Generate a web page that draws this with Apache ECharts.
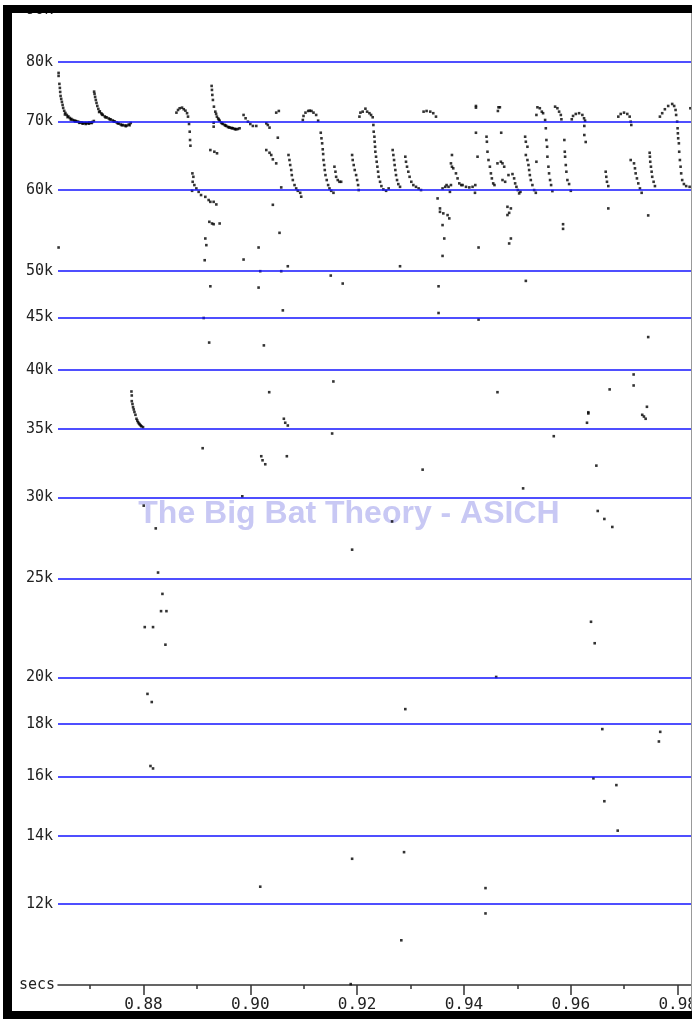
<!DOCTYPE html>
<html><head><meta charset="utf-8">
<script src="https://cdn.jsdelivr.net/npm/echarts@6/dist/echarts.min.js"></script>
<style>html,body{margin:0;padding:0;background:#fff;}#c{width:692px;height:1019px;}</style>
</head><body><div id="c"></div>
<script>
// Frequency grid lines (Hz) and their labels
const yTickValues = [90000, 80000, 70000, 60000, 50000, 45000, 40000, 35000, 30000, 25000, 20000, 18000, 16000, 14000, 12000];
const yTickLabels = ['90k', '80k', '70k', '60k', '50k', '45k', '40k', '35k', '30k', '25k', '20k', '18k', '16k', '14k', '12k'];
// Time ticks (secs)
const xTickValues = [0.88, 0.90, 0.92, 0.94, 0.96, 0.98];
const xMinorTickValues = [0.87, 0.89, 0.91, 0.93, 0.95, 0.97];
const watermark = 'The Big Bat Theory - ASICH';

// Dots [time s, frequency Hz], grouped by call
const callA = [[0.86411,78090],[0.86411,77560],[0.86426,76180],[0.86435,75490],[0.86441,74810],[0.86448,74140],[0.86460,73640],[0.86473,73150],[0.86486,72650],[0.86497,72160],[0.86516,71690],[0.86538,71350],[0.86566,71030],[0.86594,70790],[0.86622,70550],[0.86650,70390],[0.86678,70230],[0.86706,70150],[0.86734,70070],[0.86762,69990],[0.86790,69910],[0.86819,69830],[0.86847,69830],[0.86875,69750],[0.86903,69750],[0.86931,69750],[0.86959,69750],[0.86987,69830],[0.87015,69830],[0.87043,69910],[0.87071,70070],
  [0.86530,71100],[0.86580,70680],[0.86640,70300],[0.86720,70000],[0.86800,69780],[0.86860,69640],[0.86920,69600],[0.86980,69640],[0.87030,69750]];
const callB = [[0.87076,74860],[0.87084,74480],[0.87095,73970],[0.87108,73470],[0.87121,72980],[0.87136,72480],[0.87155,72000],[0.87183,71610],[0.87211,71290],[0.87239,71030],[0.87276,70790],[0.87314,70630],[0.87351,70470],[0.87389,70310],[0.87426,70150],[0.87463,69990],[0.87501,69830],[0.87538,69670],[0.87575,69520],[0.87613,69440],[0.87650,69360],[0.87688,69360],[0.87725,69520],[0.87762,69750],
  [0.87170,71500],[0.87225,71100],[0.87290,70650],[0.87370,70330],[0.87445,70000],[0.87520,69700],[0.87595,69400],[0.87670,69250],[0.87740,69400]];
const callLow = [[0.87775,38090],[0.87781,37750],[0.87781,37270],[0.87794,37030],[0.87805,36770],[0.87818,36580],[0.87831,36370],[0.87850,36140],[0.87869,35820],[0.87884,35680],[0.87899,35540],[0.87916,35440],[0.87931,35360],[0.87949,35280],[0.87962,35220],[0.87992,35150]];
const callC = [[0.88617,71400],[0.88647,71830],[0.88678,72110],[0.88722,72210],[0.88754,71950],[0.88786,71720],[0.88816,71310],[0.88834,70760],[0.88853,69600],[0.88866,68400],[0.88872,67130],[0.88879,66270],[0.88916,62270],[0.88934,61790],[0.88921,61100],[0.88910,59870],[0.88953,60650],[0.88990,60190],[0.89033,59730],[0.89078,59300],[0.89158,59060],[0.89220,58640],[0.89252,58400],[0.89314,58400],[0.89364,58060]];
const callD = [[0.89276,75830],[0.89282,75150],[0.89289,74310],[0.89300,73470],[0.89319,72370],[0.89345,71560],[0.89375,70760],[0.89398,70470],[0.89426,70120],[0.89454,69830],[0.89488,69600],[0.89520,69440],[0.89551,69290],[0.89581,69130],[0.89613,69030],[0.89645,68980],[0.89675,68930],[0.89706,68820],[0.89738,68780],[0.89768,68820],[0.89800,68930],
  [0.89360,71200],[0.89410,70300],[0.89470,69700],[0.89535,69360],[0.89600,69100],[0.89660,68950],[0.89720,68800]];
const callE = [[0.89874,71030],[0.89912,70500],[0.89955,69960],[0.90000,69600],[0.90048,69290],[0.90112,69290],[0.90299,69700],[0.90328,69440],[0.90360,69030]];
const callF = [[0.90485,71400],[0.90534,71670],[0.90515,67480],[0.90299,65630],[0.90360,65230],[0.90392,64900],[0.90422,64270],[0.90485,63690],[0.90579,60330],[0.90422,58010],[0.90547,54460]];
const callG = [[0.90715,64900],[0.90733,64170],[0.90747,63450],[0.90766,62740],[0.90777,62030],[0.90796,61340],[0.90828,60650],[0.90859,60190],[0.90889,59870],[0.90934,59600],[0.90953,59080]];
const callH = [[0.90983,70230],[0.90996,70870],[0.91033,71400],[0.91084,71670],[0.91113,71720],[0.91145,71670],[0.91183,71400],[0.91233,71030],[0.91270,70120],[0.91319,68240],[0.91332,67390],[0.91345,66630],[0.91356,65740],[0.91364,65040],[0.91370,64170],[0.91383,63450],[0.91394,62740],[0.91407,62030],[0.91431,61340],[0.91457,60650],[0.91482,60190],[0.91514,59870],[0.91557,59600]];
const callI = [[0.91575,63210],[0.91594,62500],[0.91607,61790],[0.91637,61340],[0.91669,61100],[0.91701,61100]];
const callJ = [[0.91906,64900],[0.91917,64170],[0.91936,63450],[0.91955,62740],[0.91981,62030],[0.92000,61340],[0.92018,60650],[0.92029,59970]];
const callK = [[0.92043,70760],[0.92061,71400],[0.92104,71560],[0.92155,72040],[0.92187,71560],[0.92230,71310],[0.92261,71030],[0.92291,70660],[0.92304,69440],[0.92310,68400],[0.92323,67630],[0.92328,66870],[0.92336,66120],[0.92341,65380],[0.92354,64650],[0.92366,63920],[0.92379,63210],[0.92392,62500],[0.92403,61790],[0.92429,61100],[0.92454,60510],[0.92491,60060],[0.92542,59870],[0.92590,60190]];
const callL = [[0.92665,65630],[0.92678,64900],[0.92691,64170],[0.92702,63450],[0.92715,62740],[0.92728,62030],[0.92747,61340],[0.92771,60780],[0.92803,60410]];
const callM = [[0.92902,64650],[0.92915,63920],[0.92934,63210],[0.92958,62500],[0.92982,61790],[0.93014,61100],[0.93052,60650],[0.93102,60410],[0.93151,60190],[0.93196,59970]];
const callN = [[0.93244,71560],[0.93300,71670],[0.93369,71560],[0.93425,71310],[0.93476,70760]];
const callO = [[0.93506,58850],[0.93551,57540],[0.93551,57100],[0.93613,56900],[0.93693,56680],[0.93725,56260],[0.93599,55420],[0.93631,53770],[0.93599,60190],[0.93649,60410],[0.93674,60650],[0.93711,60410],[0.93756,60650],[0.93737,59730]];
const callP = [[0.93775,64900],[0.93756,63690],[0.93775,63210],[0.93799,62980],[0.93850,62270],[0.93880,61570],[0.93912,60880],[0.93949,60650],[0.93974,60650],[0.94038,60410],[0.94100,60330],[0.94161,60410],[0.94212,60650],[0.94206,59600]];
const callQ = [[0.94224,72480],[0.94224,72210],[0.94224,68240],[0.94254,64650],[0.94422,67630],[0.94429,66870],[0.94440,65380],[0.94459,64170],[0.94485,63210],[0.94504,62270],[0.94522,61570],[0.94547,60880],[0.94571,60650]];
const callR = [[0.94646,72270],[0.94672,72270],[0.94635,71670],[0.94697,68240],[0.94627,63690],[0.94691,63920],[0.94721,63690],[0.94753,63210],[0.94721,61340],[0.94771,61100],[0.94833,62030],[0.94908,62170],[0.94939,61570],[0.94958,60880],[0.94982,60410],[0.95008,59970],[0.95033,59520],[0.95057,59730],[0.94814,57750],[0.94878,57540],[0.94846,56970],[0.94814,56690],[0.94878,53770],[0.94846,53170]];
const callS = [[0.95145,67630],[0.95158,66870],[0.95188,66120],[0.95158,64900],[0.95188,64170],[0.95207,63450],[0.95220,62740],[0.95233,62030],[0.95251,61340],[0.95281,60650],[0.95313,59970],[0.95345,59600],[0.95356,63920]];
const callT = [[0.95356,71030],[0.95375,72270],[0.95420,72110],[0.95457,71560],[0.95481,71310],[0.95519,70230],[0.95532,68930],[0.95543,67130],[0.95556,66120],[0.95562,64650],[0.95581,63210],[0.95593,62270],[0.95612,61340],[0.95631,60650],[0.95655,59830]];
const callU = [[0.95706,72370],[0.95749,72110],[0.95781,71560],[0.95813,71030],[0.95824,70340],[0.95879,67130],[0.95887,65380],[0.95893,64650],[0.95906,63450],[0.95917,62500],[0.95936,61340],[0.95968,60790],[0.96000,59870],[0.95855,55530],[0.95855,54950]];
const callV = [[0.96018,70340],[0.96042,70870],[0.96093,71190],[0.96155,71310],[0.96216,71030],[0.96248,70500],[0.96267,70120],[0.96253,69290],[0.96253,67890],[0.96279,66830]];
const callW = [[0.96653,62500],[0.96664,61790],[0.96677,61100],[0.96702,60510],[0.96702,57540]];
const callX = [[0.96889,70760],[0.96934,71190],[0.96996,71400],[0.97057,71190],[0.97102,70760],[0.97121,69960],[0.97132,69440],[0.97121,64170],[0.97183,63690],[0.97201,62980],[0.97214,62270],[0.97238,61570],[0.97263,60880],[0.97294,60190],[0.97326,59600]];
const callY = [[0.97449,56640],[0.97476,65230],[0.97481,64650],[0.97487,63920],[0.97500,63210],[0.97513,62500],[0.97524,61790],[0.97550,61100],[0.97575,60510]];
const callZ = [[0.97668,70760],[0.97711,71310],[0.97761,71950],[0.97823,72480],[0.97898,72810],[0.97935,72480],[0.97961,71830],[0.97972,71030],[0.97991,69960],[0.97999,68930],[0.98004,68150],[0.98010,67390],[0.98023,66630],[0.98029,65380],[0.98042,64170],[0.98055,63210],[0.98066,62270],[0.98085,61340],[0.98117,60790],[0.98160,60510],[0.98224,60410],[0.98238,72110]];
const strays = [[0.86411,52690],[0.89233,55830],[0.89284,55620],[0.89314,55530],[0.89426,55620],[0.89158,53770],[0.89177,52970],[0.89146,51200],[0.89252,48280],[0.89127,44950],[0.89230,42530],[0.89108,33520],[0.88005,29450],[0.89314,69800],[0.89314,69180],[0.89252,65630],[0.89327,65380],[0.89377,65150],
[0.88230,27980],[0.88273,25330],[0.88355,24140],[0.88329,23220],[0.88430,23220],[0.88024,22400],[0.88179,22400],[0.88411,21530],[0.88075,19270],[0.88155,18920],[0.88131,16380],[0.88179,16290],
[0.90155,52690],[0.89874,51280],[0.90186,49950],[0.90579,49950],[0.90702,50510],[0.90155,48140],[0.90609,45730],[0.91506,49460],[0.91730,48580],[0.92803,50510],[0.93599,51700],[0.93524,48280],[0.93524,45460],[0.90254,42260],[0.91555,38960],[0.90354,38030],[0.90628,35820],[0.90654,35500],[0.90702,35280],[0.91532,34650],[0.90205,32920],[0.90229,32620],[0.90280,32330],[0.90684,32920],[0.93226,31940],[0.89850,30080],
[0.94273,52690],[0.95158,48870],[0.94273,44790],[0.97449,43060],[0.97176,39580],[0.97176,38610],[0.96727,38270],[0.94627,38030],[0.97425,36800],[0.97337,36140],[0.97369,36000],[0.97401,35820],[0.96328,36350],[0.96328,36250],[0.96303,35500],[0.95681,34440],[0.96478,32230],[0.95107,30620],[0.96504,29100],[0.96628,28580],[0.96777,28070],[0.96378,22670],[0.96447,21600],[0.94603,20020],[0.96590,17800],[0.97674,17690],[0.97649,17310],[0.96423,15930],[0.96853,15690],[0.96628,15130],[0.96878,14160],[0.94403,12440],[0.94403,11750],
[0.92654,28420],[0.91906,26670],[0.92902,18620],[0.90186,12480],[0.91906,13290],[0.92878,13490],[0.92827,11060],[0.91880,10020]];

const allDots = [].concat(callA, callB, callLow, callC, callD, callE, callF, callG, callH, callI, callJ, callK, callL, callM, callN, callO, callP, callQ, callR, callS, callT, callU, callV, callW, callX, callY, callZ, strays);

const X_MIN = 0.864, X_MAX = 0.9825;
const chart = echarts.init(document.getElementById('c'), null, {renderer: 'canvas'});
const mono = '"DejaVu Sans Mono", "Liberation Mono", monospace';
chart.setOption({
  animation: false,
  backgroundColor: '#ffffff',
  grid: {left: 58, right: 1, top: 5, bottom: 34, containLabel: false, outerBoundsMode: 'none'},
  xAxis: [{
    type: 'value', min: X_MIN, max: X_MAX,
    axisLine: {show: true, lineStyle: {color: '#333', width: 1.5}},
    axisTick: {show: true, customValues: xTickValues, length: 10, lineStyle: {color: '#333', width: 1.5}},
    axisLabel: {show: true, customValues: xTickValues, formatter: v => v.toFixed(2), fontFamily: mono, fontSize: 16, color: '#222', margin: 12},
    splitLine: {show: false},
    name: 'secs', nameLocation: 'start', nameGap: 3,
    nameTextStyle: {fontFamily: mono, fontSize: 15, color: '#222', verticalAlign: 'middle'}
  }, {
    type: 'value', min: X_MIN, max: X_MAX, position: 'bottom',
    axisLine: {show: false},
    axisTick: {show: true, customValues: xMinorTickValues, length: 4, lineStyle: {color: '#333', width: 1.5}},
    axisLabel: {show: false},
    splitLine: {show: false}
  }],
  yAxis: {
    type: 'log', logBase: 10, min: 10000, max: 91000,
    axisLine: {show: false}, axisTick: {show: false}, axisLabel: {show: false}, splitLine: {show: false}
  },
  graphic: [
    {type: 'text', x: 349, y: 514, z: -1, silent: true,
     style: {text: watermark, font: 'bold 32px "Liberation Sans", Arial, sans-serif', fill: '#c8c8f4', align: 'center', verticalAlign: 'middle', textAlign: 'center', textVerticalAlign: 'middle'}},
    {type: 'rect', z: 100, silent: true, shape: {x: 0, y: 0, width: 692, height: 5}, style: {fill: '#fff'}},
    {type: 'rect', z: 100, silent: true, shape: {x: 0, y: 0, width: 3, height: 1019}, style: {fill: '#fff'}},
    {type: 'rect', z: 101, silent: true, shape: {x: 3, y: 5, width: 9, height: 1014}, style: {fill: '#000'}},
    {type: 'rect', z: 101, silent: true, shape: {x: 3, y: 5, width: 689, height: 8}, style: {fill: '#000'}},
    {type: 'rect', z: 101, silent: true, shape: {x: 3, y: 1011, width: 689, height: 8}, style: {fill: '#000'}},
    {type: 'rect', z: 101, silent: true, shape: {x: 691, y: 13, width: 1, height: 998}, style: {fill: '#999'}}
  ],
  series: [{
    type: 'scatter', xAxisIndex: 0, data: allDots,
    symbol: 'rect', symbolSize: 2.6, itemStyle: {color: '#000'}, silent: true,
    markLine: {
      silent: true, symbol: ['none', 'none'], animation: false,
      lineStyle: {color: '#1414ff', width: 1.5, type: 'solid'},
      label: {show: true, position: 'start', distance: 5, formatter: '{b}', fontFamily: mono, fontSize: 15, color: '#222'},
      data: yTickValues.map((v, i) => ({yAxis: v, name: yTickLabels[i]}))
    }
  }]
});
</script></body></html>
